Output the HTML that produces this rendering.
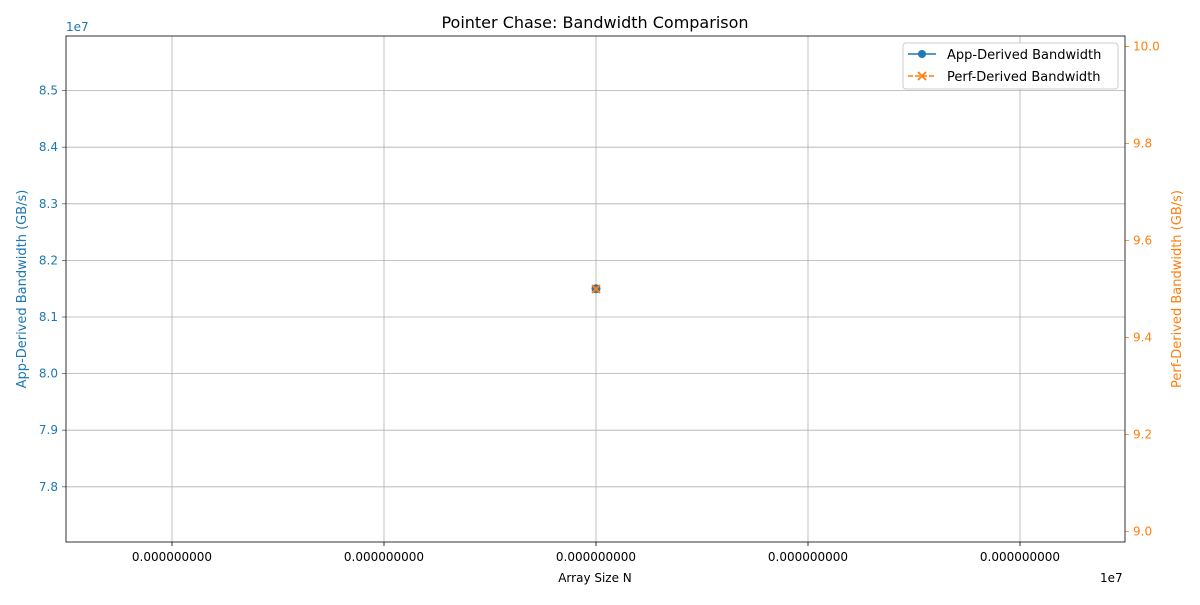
<!DOCTYPE html>
<html><head><meta charset="utf-8"><style>
body{margin:0;background:#fff;font-family:"Liberation Sans","DejaVu Sans",sans-serif}
svg text{font-family:"DejaVu Sans","Liberation Sans",sans-serif}
</style></head><body>
<svg id="c" width="1200" height="600" xmlns="http://www.w3.org/2000/svg"></svg>
<script>
const categories=[3.0e7];
const appValues=[8.15e7];
const perfValues=[9.5];
const xTicks=[-2,-1,0,1,2];
const xTickLabels=["0.000000000","0.000000000","0.000000000","0.000000000","0.000000000"];
const yLeftTicks=[7.8,7.9,8.0,8.1,8.2,8.3,8.4,8.5];
const yRightTicks=[9.0,9.2,9.4,9.6,9.8,10.0];

const L=66,R=1125,T=36,B=542;
const svg=document.getElementById('c');
const NS='http://www.w3.org/2000/svg';
function el(tag,attrs,parent){const e=document.createElementNS(NS,tag);for(const k in attrs)e.setAttribute(k,attrs[k]);(parent||svg).appendChild(e);return e;}
const xc=categories[0];
const xScale=v=>596+(v-xc)/1e7*0; // singular range: all points centered
const xTickPos=i=>596+i*212;
const yl=v=>317-(v/1e7-8.1)*566;
const yr=v=>289-(v-9.5)*485;

// grid
xTicks.forEach((t,i)=>{const g=el('line',{x1:xTickPos(t),x2:xTickPos(t),y1:T,y2:B,stroke:'#b0b0b0','stroke-width':0.8});


const tk=el('line',{x1:xTickPos(t),x2:xTickPos(t),y1:B,y2:B+4,stroke:'#000','stroke-width':0.8});
const tx=el('text',{x:xTickPos(t),y:B+19,'text-anchor':'middle','font-size':12});tx.textContent=xTickLabels[i];

});
yLeftTicks.forEach(t=>{const y=yl(t*1e7);
const g=el('line',{x1:L,x2:R,y1:y,y2:y,stroke:'#b0b0b0','stroke-width':0.8});


el('line',{x1:L-4,x2:L,y1:y,y2:y,stroke:'#1f77b4','stroke-width':0.8});
const tx=el('text',{x:L-8,y:y+4,'text-anchor':'end','font-size':12,fill:'#1f77b4'});tx.textContent=t.toFixed(1);

});
yRightTicks.forEach(t=>{const y=yr(t);
el('line',{x1:R,x2:R+4,y1:y,y2:y,stroke:'#ff7f0e','stroke-width':0.8});
const tx=el('text',{x:R+8,y:y+4,'text-anchor':'start','font-size':12,fill:'#ff7f0e'});tx.textContent=t.toFixed(1);

});
const fr=el('rect',{x:L,y:T,width:R-L,height:B-T,fill:'none',stroke:'#000','stroke-width':0.8});



// series
categories.forEach((c,i)=>{
const p=el('circle',{cx:xScale(c),cy:yl(appValues[i]),r:4.5,fill:'#1f77b4'});


const x=xScale(c),y=yr(perfValues[i]);
const m=el('path',{d:`M${x-4},${y-4}L${x+4},${y+4}M${x-4},${y+4}L${x+4},${y-4}`,stroke:'#ff7f0e','stroke-width':2});


});

function txt(s,a,name){const t=el('text',a);t.textContent=s;

return t;}
txt('Pointer Chase: Bandwidth Comparison',{x:595,y:28,'text-anchor':'middle','font-size':16},'chart-title');
txt('Array Size N',{x:595,y:582,'text-anchor':'middle','font-size':12},'x-axis-title');
txt('1e7',{x:1100,y:582,'font-size':12},'x-offset-label');
txt('1e7',{x:66,y:31,'font-size':12,fill:'#1f77b4'},'y-offset-label');
txt('App-Derived Bandwidth (GB/s)',{x:26,y:289,'text-anchor':'middle','font-size':13,fill:'#1f77b4',transform:'rotate(-90 26 289)'},'y-left-axis-title');
txt('Perf-Derived Bandwidth (GB/s)',{x:1181,y:289,'text-anchor':'middle','font-size':13,fill:'#ff7f0e',transform:'rotate(-90 1181 289)'},'y-right-axis-title');

// legend
const lg=el('g',{});


el('rect',{x:903,y:43,width:215,height:46,rx:3,fill:'#fff',stroke:'#ccc','stroke-width':1},lg);
el('line',{x1:908,x2:936,y1:54,y2:54,stroke:'#1f77b4','stroke-width':1.5},lg);
el('circle',{cx:922,cy:54,r:4,fill:'#1f77b4'},lg);
el('line',{x1:908,x2:936,y1:76,y2:76,stroke:'#ff7f0e','stroke-width':1.5,'stroke-dasharray':'5,2'},lg);
el('path',{d:'M918,72L926,80M918,80L926,72',stroke:'#ff7f0e','stroke-width':1.8},lg);
const e1=el('text',{x:947,y:59,'font-size':13},lg);e1.textContent='App-Derived Bandwidth';


const e2=el('text',{x:947,y:81,'font-size':13},lg);e2.textContent='Perf-Derived Bandwidth';


</script>
</body></html>
